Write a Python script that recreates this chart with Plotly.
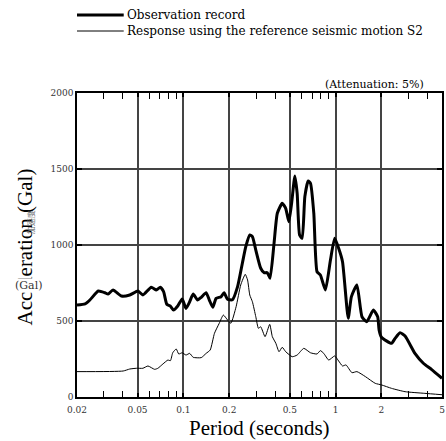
import plotly.graph_objects as go

# Observation record (period s, acceleration Gal)
obs_period = [0.020, 0.0226, 0.0243, 0.0276, 0.0305, 0.032, 0.0345, 0.0392, 0.0444, 0.0503,
              0.0542, 0.0615, 0.0664, 0.0705, 0.0741, 0.0778, 0.0819, 0.0861, 0.0918, 0.0982,
              0.104, 0.110, 0.116, 0.124, 0.131, 0.141, 0.148, 0.156, 0.164, 0.177,
              0.185, 0.195, 0.210, 0.227, 0.244, 0.257, 0.273, 0.284, 0.299, 0.322,
              0.339, 0.356, 0.371, 0.394, 0.414, 0.446, 0.470, 0.493, 0.514, 0.540,
              0.559, 0.580, 0.603, 0.628, 0.660, 0.684, 0.719, 0.755, 0.794, 0.857,
              0.925, 0.986, 1.047, 1.11, 1.21, 1.27, 1.38, 1.49, 1.60, 1.77,
              1.89, 1.93, 2.0, 2.33, 2.46, 2.65, 2.86, 3.32, 3.77, 4.26, 5.0]
obs_accel = [605, 612, 638, 697, 686, 677, 704, 664, 671, 697,
             671, 722, 704, 722, 693, 610, 599, 572, 599, 645,
             583, 627, 677, 638, 656, 686, 638, 590, 649, 660,
             686, 643, 640, 726, 880, 989, 1066, 1055, 967, 847,
             818, 818, 781, 1011, 1209, 1274, 1241, 1153, 1274, 1454,
             1340, 1066, 1044, 1318, 1421, 1406, 1209, 824, 803, 704,
             901, 1044, 978, 890, 518, 660, 737, 528, 495, 572,
             528, 441, 393, 353, 386, 423, 401, 287, 222, 182, 123]

# Response using the reference seismic motion S2
s2_period = [0.020, 0.0402, 0.0444, 0.0491, 0.0542, 0.0585, 0.0647, 0.068, 0.0733, 0.0791,
             0.0822, 0.0851, 0.0897, 0.0932, 0.0982, 0.104, 0.110, 0.116, 0.131, 0.141,
             0.150, 0.160, 0.172, 0.183, 0.195, 0.205, 0.222, 0.238, 0.255, 0.264,
             0.273, 0.284, 0.299, 0.311, 0.322, 0.344, 0.369, 0.384, 0.405, 0.425,
             0.446, 0.470, 0.519, 0.559, 0.618, 0.684, 0.755, 0.794, 0.836, 0.901,
             0.986, 1.047, 1.11, 1.17, 1.28, 1.38, 1.57, 1.82, 2.01, 2.33,
             2.86, 3.86, 5.0]
s2_accel = [167, 171, 184, 189, 189, 204, 182, 189, 217, 243,
            239, 291, 316, 283, 291, 276, 287, 261, 259, 287,
            309, 419, 485, 539, 507, 485, 594, 737, 807, 770,
            671, 627, 528, 452, 462, 397, 478, 397, 353, 298,
            327, 298, 265, 276, 320, 291, 283, 305, 287, 243,
            270, 237, 204, 211, 160, 167, 134, 90, 79, 57,
            35, 24, 15]

x_tickvals = [0.02, 0.05, 0.1, 0.2, 0.5, 1, 2, 5]
x_ticktext = ["0.02", "0.05", "0.1", "0.2", "0.5", "1", "2", "5"]
x_minorvals = [0.03, 0.04, 0.06, 0.07, 0.08, 0.09, 0.3, 0.4, 0.6, 0.7, 0.8, 0.9, 3, 4]
y_tickvals = [0, 500, 1000, 1500, 2000]

series_names = ["Observation record", "Response using the reference seismic motion S2"]

SERIF_T = "Liberation Serif"
SERIF_C = "DejaVu Serif"

fig = go.Figure()
fig.add_trace(go.Scatter(x=obs_period, y=obs_accel, mode="lines", name=series_names[0],
                         line=dict(color="black", width=3, shape="spline", smoothing=0.5),
                         showlegend=False))
fig.add_trace(go.Scatter(x=s2_period, y=s2_accel, mode="lines", name=series_names[1],
                         line=dict(color="black", width=1, shape="spline", smoothing=0.5),
                         showlegend=False))

# manual legend
leg_y = [1.2566, 1.2039]
leg_w = [3, 1]
for i in range(2):
    fig.add_shape(type="line", xref="paper", yref="paper", x0=0, x1=0.128, y0=leg_y[i], y1=leg_y[i],
                  line=dict(color="black", width=leg_w[i]))
    fig.add_annotation(xref="paper", yref="paper", x=0.131, y=leg_y[i], text=series_names[i],
                       showarrow=False, xanchor="left", yanchor="middle",
                       font=dict(family=SERIF_C, size=12, color="black"))

fig.add_annotation(xref="paper", yref="paper", x=0.956, y=1.0296, text="(Attenuation: 5%)",
                   showarrow=False, xanchor="right", yanchor="middle",
                   font=dict(family=SERIF_C, size=11, color="black"))

# y axis title (overlapping labels as in original)
fig.add_annotation(xref="paper", yref="paper", x=-0.1417, y=0.493, text="Acceleration (Gal)",
                   showarrow=False, textangle=-90, xanchor="center", yanchor="middle",
                   font=dict(family=SERIF_T, size=21, color="black"))
fig.add_annotation(xref="paper", yref="paper", x=-0.125, y=0.576, text="加速度",
                   showarrow=False, textangle=-90, xanchor="center", yanchor="middle",
                   font=dict(family="Noto Sans CJK JP", size=8, color="#777"))
fig.add_annotation(xref="paper", yref="paper", x=-0.1335, y=0.368, text="(Gal)",
                   showarrow=False, xanchor="center", yanchor="middle", bgcolor="white",
                   borderpad=0,
                   font=dict(family=SERIF_C, size=11, color="#333"))

# x axis title
fig.add_annotation(xref="paper", yref="paper", x=0.5, y=-0.102, text="Period (seconds)",
                   showarrow=False, xanchor="center", yanchor="middle",
                   font=dict(family=SERIF_T, size=21, color="black"))

fig.update_xaxes(type="log", range=[-1.69897, 0.69897],
                 tickvals=x_tickvals, ticktext=x_ticktext,
                 ticks="inside", ticklen=4, tickwidth=2, tickcolor="black",
                 ticklabelstandoff=3,
                 showgrid=True, gridcolor="#444", gridwidth=1.5,
                 showline=True, linecolor="black", linewidth=1.5, mirror="allticks",
                 minor=dict(tickvals=x_minorvals, ticks="inside", ticklen=6, tickwidth=1,
                            tickcolor="black", showgrid=False),
                 tickfont=dict(family=SERIF_C, size=9, color="#333"),
                 zeroline=False)
fig.update_yaxes(range=[0, 2000], tickvals=y_tickvals,
                 ticks="inside", ticklen=5, tickwidth=2, tickcolor="black",
                 showgrid=True, gridcolor="#444", gridwidth=1.5,
                 showline=True, linecolor="black", linewidth=1.5, mirror="allticks",
                 tickfont=dict(family=SERIF_C, size=9, color="#333"),
                 zeroline=False)

fig.update_layout(width=446, height=441, margin=dict(l=77, r=2, t=93, b=44),
                  plot_bgcolor="white", paper_bgcolor="white",
                  font=dict(family=SERIF_C))

fig.write_html("out.html", config={"displayModeBar": False},
               post_script="document.body.style.margin='0';")
